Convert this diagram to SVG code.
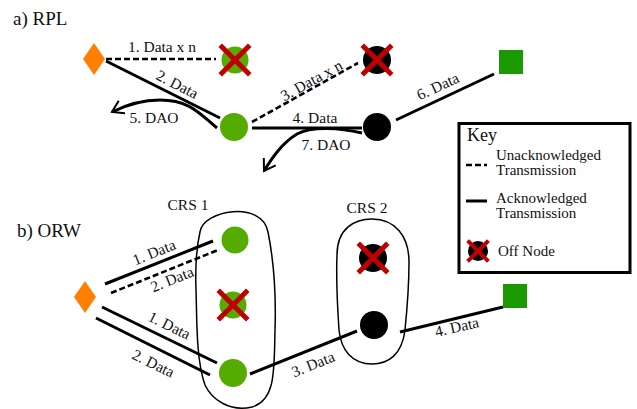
<svg xmlns="http://www.w3.org/2000/svg" xmlns:xlink="http://www.w3.org/1999/xlink" width="637" height="409" viewBox="0 0 637 409">
<style>
text{font-family:"Liberation Serif","Times New Roman",serif;fill:#111}
.lbl{font-size:15.5px;text-anchor:middle}
.title{font-size:19px}
.key{font-size:15px}
.ack{stroke:#000;stroke-width:3;fill:none}
.unack{stroke:#000;stroke-width:2.6;fill:none;stroke-dasharray:6 3}
.green{fill:#55ab00}
.black{fill:#000}
.sink{fill:#1a9a00}
.src{fill:#ff8000}
.xm{stroke:#c00000;stroke-width:5;stroke-linecap:square}
.blob{fill:none;stroke:#000;stroke-width:1.5}
</style>
<defs>
<g id="x"><line class="xm" x1="-13" y1="-13" x2="13" y2="13"/><line class="xm" x1="13" y1="-13" x2="-13" y2="13"/></g>
<marker id="arr" markerWidth="14" markerHeight="16" refX="12" refY="8" orient="auto" markerUnits="userSpaceOnUse"><path d="M1,1 L12,8 L1,15" fill="none" stroke="#000" stroke-width="2"/></marker>
</defs>

<text class="title" x="13" y="25">a) RPL</text>
<text class="title" x="17" y="237">b) ORW</text>

<g id="connectors">
<!-- a) RPL -->
<line class="unack" x1="106" y1="59" x2="216" y2="59"/>
<text class="lbl" x="162" y="52">1. Data x n</text>
<line class="ack" x1="106" y1="61" x2="220" y2="118"/>
<text class="lbl" transform="translate(175,89) rotate(27)">2. Data</text>
<path class="ack" d="M217,128 C200,114 190,100 160,100 C140,100 126,105 112,112" marker-end="url(#arr)"/>
<text class="lbl" x="154" y="123">5. DAO</text>
<line class="unack" x1="252" y1="122" x2="358" y2="63"/>
<text class="lbl" transform="translate(314,85) rotate(-29)">3. Data x n</text>
<line class="ack" x1="252" y1="128" x2="362" y2="128"/>
<text class="lbl" x="315" y="123">4. Data</text>
<path class="ack" d="M362,133 C340,128 312,126 297,134 C282,143 272,158 264,171" marker-end="url(#arr)"/>
<text class="lbl" x="326" y="150">7. DAO</text>
<line class="ack" x1="396" y1="120" x2="494" y2="74"/>
<text class="lbl" transform="translate(440,91) rotate(-25)">6. Data</text>
<!-- b) ORW -->
<line class="ack" x1="105" y1="284" x2="213" y2="241"/>
<text class="lbl" transform="translate(156,257) rotate(-22)">1. Data</text>
<line class="unack" x1="111" y1="293" x2="218" y2="250"/>
<text class="lbl" transform="translate(174,284) rotate(-22)">2. Data</text>
<line class="ack" x1="102" y1="307" x2="217" y2="363"/>
<text class="lbl" transform="translate(167,330) rotate(26)">1. Data</text>
<line class="ack" x1="96" y1="318" x2="210" y2="375"/>
<text class="lbl" transform="translate(151,368) rotate(26)">2. Data</text>
<line class="ack" x1="250" y1="374" x2="357" y2="331"/>
<text class="lbl" transform="translate(315,369) rotate(-22)">3. Data</text>
<line class="ack" x1="400" y1="332" x2="503" y2="307"/>
<text class="lbl" transform="translate(458,332) rotate(-13)">4. Data</text>
</g>

<g id="a-source"><polygon class="src" points="94,43 105,59 94,75 83,59"/></g>
<g id="a-n1-off"><circle class="green" cx="235" cy="60" r="13.5"/><use xlink:href="#x" x="235" y="60"/></g>
<g id="a-n1"><circle class="green" cx="234" cy="127" r="14"/></g>
<g id="a-n2-off"><circle class="black" cx="377" cy="60" r="14"/><use xlink:href="#x" x="377" y="60"/></g>
<g id="a-n2"><circle class="black" cx="377" cy="127" r="14"/></g>
<g id="a-sink"><rect class="sink" x="499" y="50" width="24" height="24"/></g>

<g id="key">
<rect x="459" y="123.5" width="171" height="149" fill="#fff" stroke="#000" stroke-width="3"/>
<text x="467" y="141" style="font-size:18px">Key</text>
<line class="unack" x1="466" y1="165" x2="487" y2="165"/>
<text class="key" x="496" y="160">Unacknowledged</text>
<text class="key" x="496" y="175">Transmission</text>
<line class="ack" x1="466" y1="201" x2="487" y2="201"/>
<text class="key" x="496" y="203">Acknowledged</text>
<text class="key" x="496" y="218">Transmission</text>
<circle class="black" cx="478" cy="251" r="10"/>
<line class="xm" x1="469" y1="242" x2="487" y2="260" style="stroke-width:4"/>
<line class="xm" x1="487" y1="242" x2="469" y2="260" style="stroke-width:4"/>
<text class="key" x="498" y="256">Off Node</text>
</g>

<g id="crs1">
<path class="blob" d="M200,232 C203,210 262,200 268,232 C274,262 276,300 275,330 C274,370 276,400 252,407 C230,412 212,400 205,385 C196,360 197,320 196,290 C195,262 197,245 200,232 Z"/>
<text class="lbl" x="188" y="210">CRS 1</text>
</g>
<g id="crs2">
<path class="blob" d="M337,255 C337,228 355,219 372,219 C395,219 409,236 409,262 C409,290 407,310 405,330 C402,355 388,364 372,364 C352,364 341,350 339,330 C337,300 336,280 337,255 Z"/>
<text class="lbl" x="367" y="213">CRS 2</text>
</g>
<g id="b-source"><polygon class="src" points="85,281 96,297 85,313 74,297"/></g>
<g id="b-c1-n1"><circle class="green" cx="235" cy="240" r="13.5"/></g>
<g id="b-c1-n2-off"><circle class="green" cx="233" cy="305" r="13.5"/><use xlink:href="#x" x="233" y="305"/></g>
<g id="b-c1-n3"><circle class="green" cx="233" cy="373" r="14"/></g>
<g id="b-c2-n1-off"><circle class="black" cx="373" cy="258" r="14"/><use xlink:href="#x" x="373" y="258"/></g>
<g id="b-c2-n2"><circle class="black" cx="374" cy="325" r="14"/></g>
<g id="b-sink"><rect class="sink" x="503" y="284" width="24" height="24"/></g>
</svg>
